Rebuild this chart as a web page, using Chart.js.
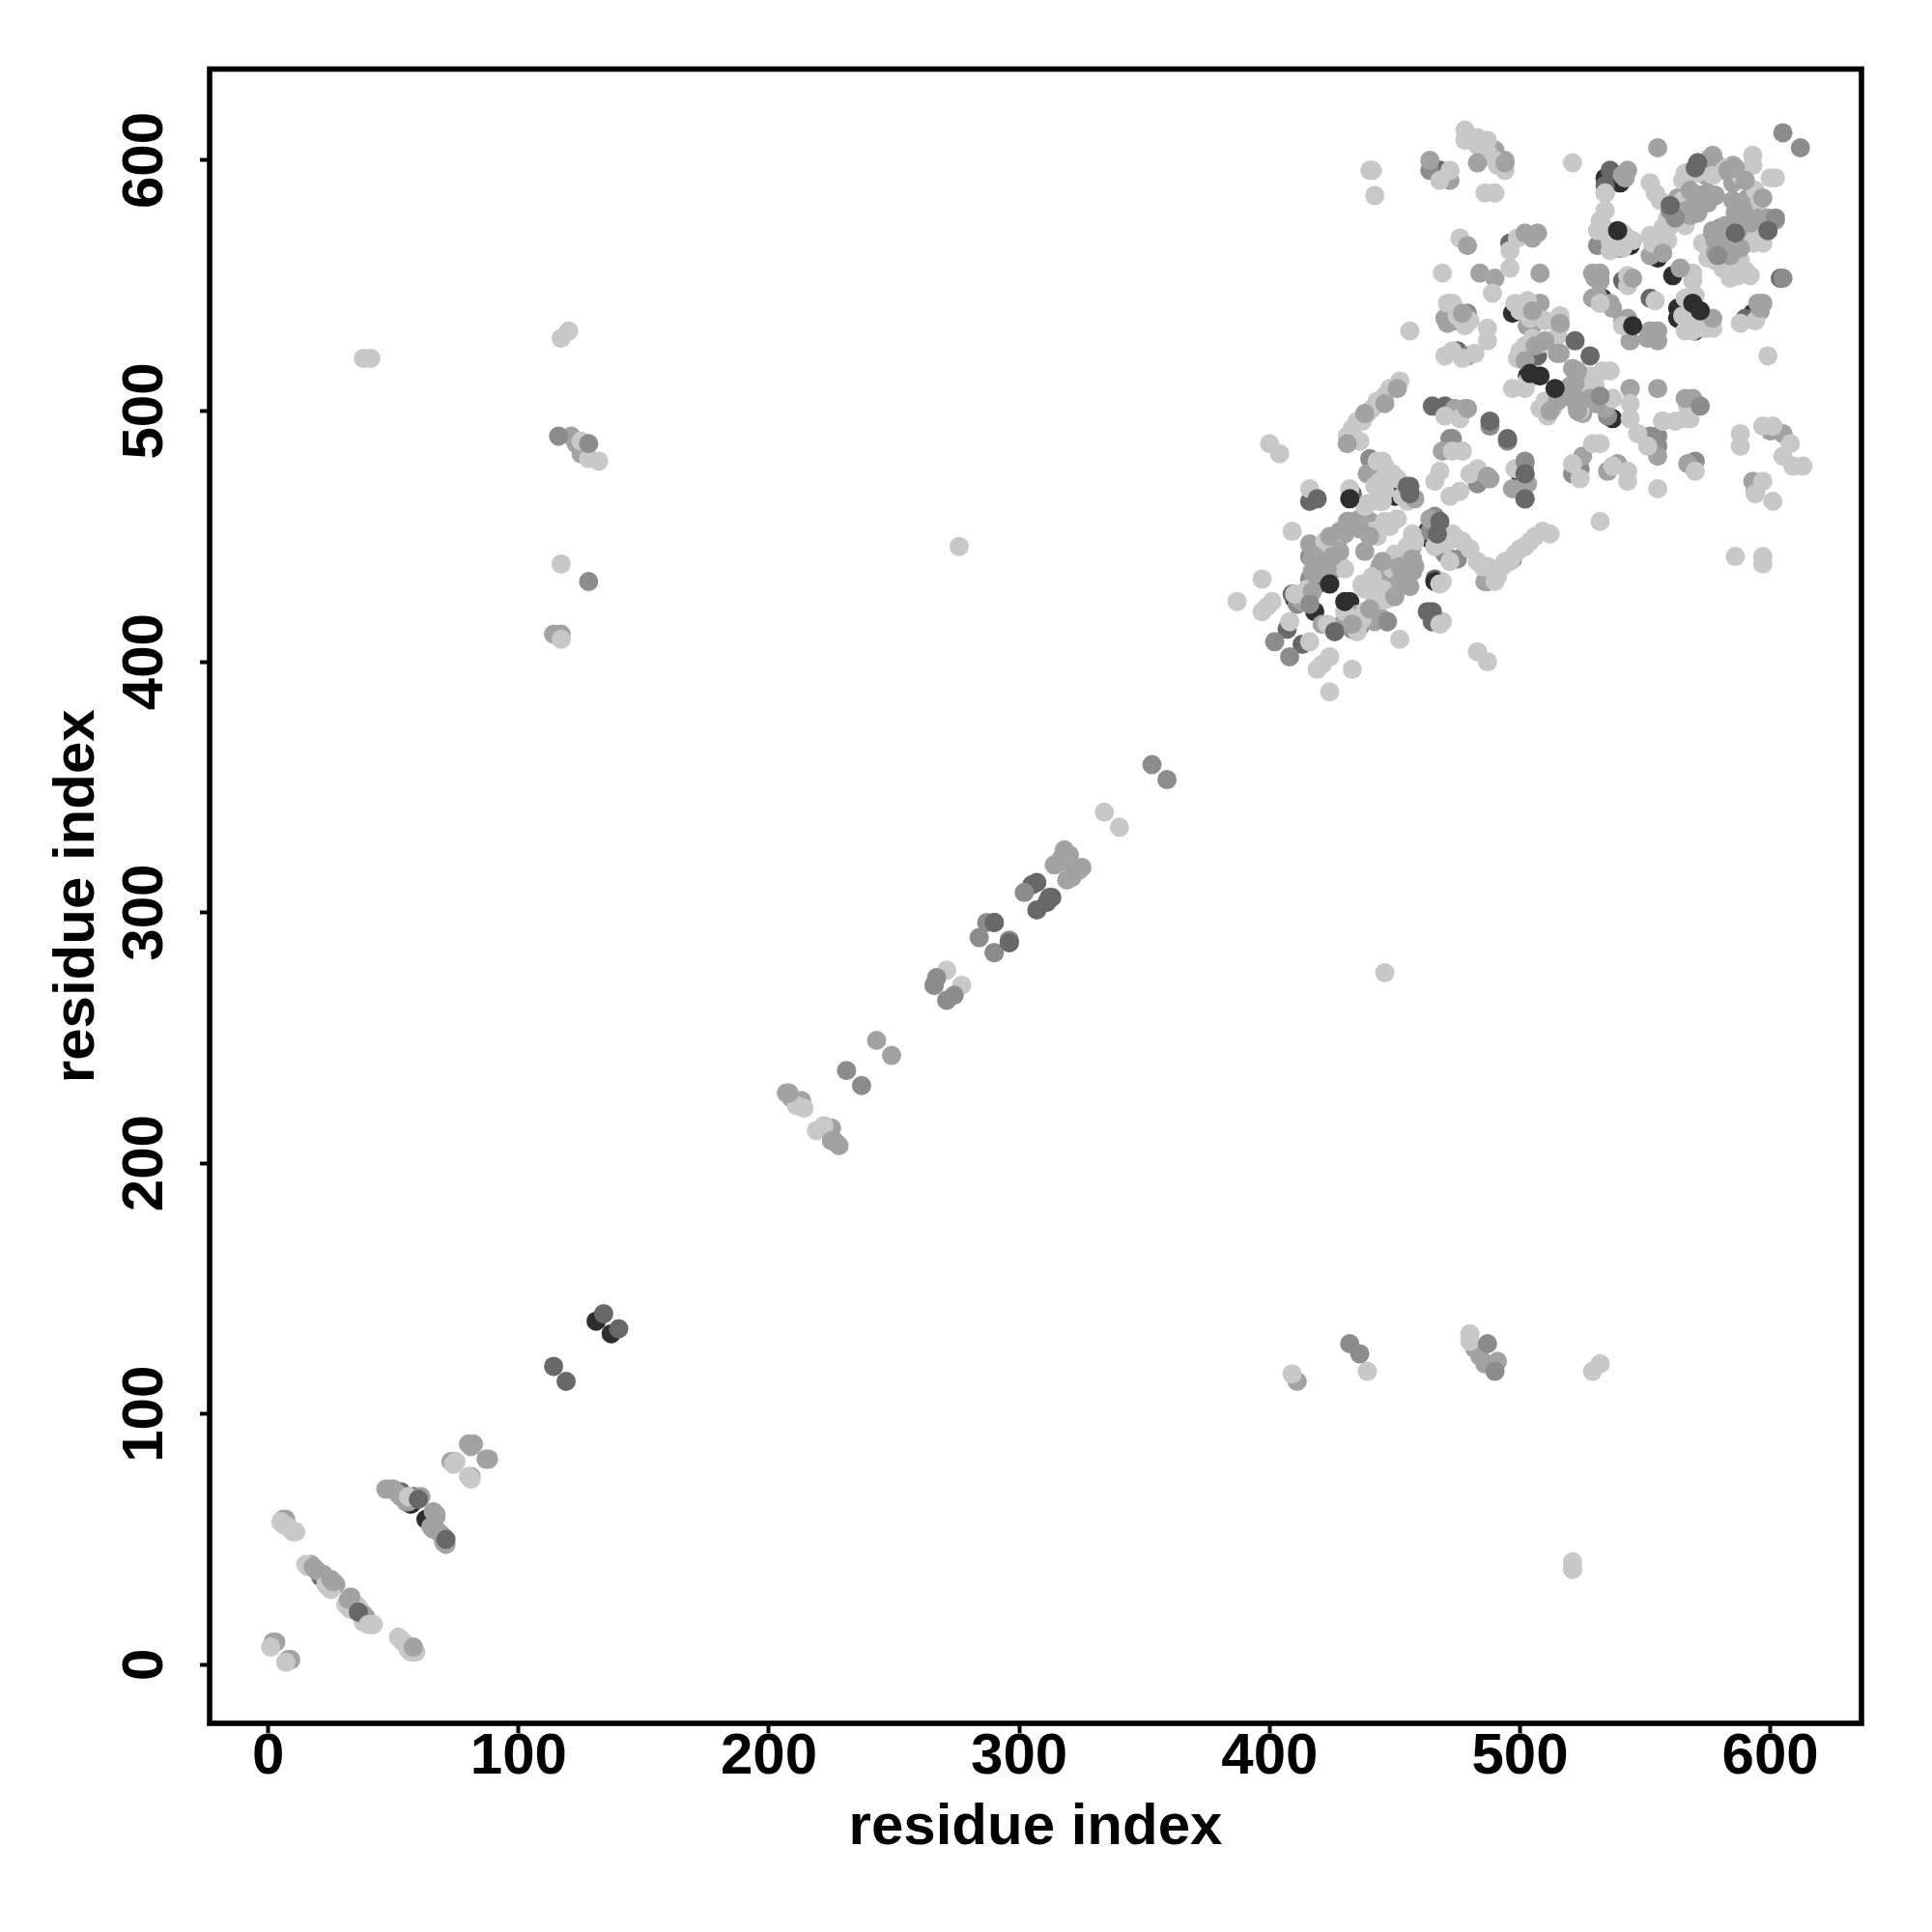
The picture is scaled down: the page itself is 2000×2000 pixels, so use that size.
<!DOCTYPE html>
<html>
<head>
<meta charset="utf-8">
<script src="https://cdn.jsdelivr.net/npm/chart.js@4"></script>
<style>
  html, body { margin: 0; padding: 0; background: #fff; }
  canvas { display: block; }
</style>
</head>
<body>
<canvas id="contactMap" width="2000" height="2000"></canvas>
<script>
// contacts as [residue, residue], grouped by shade and by how they stack
const blackUnder = [[58,65],[57,64],[63,58],[131,137],[137,132],[539,594],[539,592],[533,569],[540,565],[544,566],[533,545],[563,541],[563,537],[571,535],[593,539],[591,537],[475,500],[537,497],[463,452],[450,466],[503,514],[574,567],[565,577],[561,554],[497,539],[555,561],[534,593],[540,591],[464,449],[419,431],[432,424],[566,536],[570,532],[418,420],[500,475],[445,465],[410,425]];
const darkUnder = [[21,35],[37,21],[53,69],[58,67],[305,311],[307,312],[290,296],[296,288],[307,301],[311,304],[313,306],[140,134],[536,596],[534,590],[567,579],[541,552],[571,599],[586,571],[465,502],[470,502],[468,596],[567,498],[507,522],[475,524],[475,536],[496,567],[416,464],[407,413],[413,407],[409,427],[419,431],[502,465],[502,475],[552,545],[590,537],[528,512],[599,572],[560,582],[580,562],[604,553],[433,467],[463,420],[465,416],[466,433],[467,455],[456,470],[578,566],[582,568],[584,566],[586,572]];
const greyUnder = [[49,70],[20,37],[74,81],[266,271],[287,296],[284,290],[296,289],[290,284],[302,308],[464,596],[472,489],[483,471],[473,489],[488,494],[495,488],[533,505],[535,498],[521,475],[524,477],[552,490],[555,490],[555,486],[479,539],[479,522],[508,527],[523,501],[440,481],[441,478],[433,413],[436,414],[418,439],[411,423],[417,445],[470,443],[475,441],[497,441],[487,432],[570,480],[594,468],[506,541],[474,501],[503,534],[531,566],[534,587],[564,582],[572,586],[466,458],[464,452],[416,442],[416,433],[580,573]];
const midUnder = [[6,58],[7,58],[17,40],[22,36],[27,32],[34,24],[36,22],[37,20],[39,18],[2,9],[3,9],[9,2],[8,2],[47,70],[50,70],[52,68],[53,67],[54,67],[55,65],[56,65],[67,60],[66,61],[67,59],[65,55],[66,54],[68,53],[69,52],[70,49],[71,48],[80,88],[82,88],[81,87],[88,82],[87,82],[81,75],[73,81],[207,228],[209,226],[213,225],[225,214],[226,209],[228,207],[243,249],[249,243],[314,319],[317,322],[318,325],[319,313],[322,316],[325,318],[316,320],[320,323],[321,314],[324,317],[114,411],[117,411],[121,490],[123,487],[125,483],[411,113],[482,126],[484,123],[491,121],[486,120],[470,537],[544,509],[490,604],[494,600],[464,600],[472,592],[469,484],[478,501],[474,501],[488,473],[502,479],[502,471],[497,469],[551,529],[529,555],[532,555],[532,552],[529,545],[536,543],[543,537],[552,532],[555,532],[555,528],[552,562],[544,528],[521,517],[515,523],[521,505],[525,499],[508,555],[484,555],[490,553],[508,543],[503,534],[471,535],[539,479],[535,476],[555,482],[567,479],[593,472],[605,491],[600,492],[525,482],[439,475],[416,447],[424,437],[427,448],[430,451],[432,456],[436,457],[440,456],[413,424],[448,432],[450,430],[452,439],[457,446],[457,441],[457,436],[456,430],[435,419],[421,415],[429,415],[464,457],[440,417],[445,417],[447,416],[486,432],[438,444],[444,438],[578,567],[583,566],[587,579],[578,586],[571,579],[575,587],[585,598],[585,591],[576,601],[563,585],[591,585],[597,543],[595,543],[596,540],[530,553],[531,546],[537,541],[541,536],[553,530],[554,529],[503,541],[505,534],[503,471],[501,468],[501,476],[530,503],[534,501],[454,441],[455,433],[453,431],[458,438],[428,452],[426,445],[418,444],[417,436],[414,425],[416,426],[412,425],[448,430],[451,434],[421,438],[426,437],[442,416],[437,416],[596,585],[594,582],[584,574],[582,574],[586,567],[582,563],[576,566],[572,582],[566,587],[568,595],[571,596],[574,594],[580,596],[578,599]];
const pale = [[1,7],[7,1],[5,57],[6,56],[8,55],[9,54],[10,53],[11,53],[15,40],[16,39],[23,32],[24,31],[25,30],[31,24],[32,23],[33,22],[36,23],[35,24],[38,17],[52,11],[53,10],[54,9],[55,8],[56,6],[57,5],[58,5],[59,5],[56,67],[74,80],[75,81],[81,74],[80,75],[214,222],[211,223],[222,215],[219,213],[271,277],[277,271],[334,340],[340,334],[38,521],[41,521],[521,41],[521,38],[117,529],[120,532],[529,117],[532,120],[125,488],[128,481],[132,480],[117,439],[117,409],[439,117],[409,116],[480,132],[480,129],[276,446],[446,276],[478,612],[478,608],[483,609],[487,608],[483,606],[487,603],[490,600],[494,596],[491,598],[441,596],[440,596],[442,586],[486,587],[490,587],[521,599],[472,596],[468,592],[534,587],[541,594],[552,591],[554,587],[556,584],[559,577],[566,595],[565,592],[571,595],[577,594],[582,597],[588,594],[593,602],[593,598],[600,593],[602,593],[565,584],[566,574],[594,588],[595,582],[593,578],[592,573],[596,570],[593,567],[573,567],[578,560],[585,565],[588,560],[585,559],[587,554],[592,554],[532,576],[531,572],[536,568],[545,568],[542,570],[552,570],[557,570],[532,543],[554,544],[543,554],[543,550],[569,555],[569,552],[541,534],[566,545],[565,538],[566,532],[573,533],[577,533],[588,535],[594,536],[599,522],[536,516],[533,516],[528,514],[527,505],[523,508],[528,509],[502,526],[513,528],[497,509],[502,509],[499,521],[508,501],[511,498],[544,503],[544,497],[537,505],[557,496],[562,496],[566,497],[567,502],[568,497],[470,498],[476,497],[477,484],[473,484],[468,476],[466,472],[476,468],[472,466],[483,477],[480,475],[498,477],[456,532],[473,543],[471,543],[480,536],[477,536],[487,533],[487,528],[473,524],[477,521],[498,543],[503,544],[504,537],[516,538],[516,534],[469,555],[489,547],[496,557],[496,564],[499,569],[476,569],[586,442],[597,442],[597,439],[588,491],[588,486],[597,494],[601,494],[608,487],[605,482],[609,478],[613,478],[597,472],[601,464],[594,467],[529,487],[532,487],[521,479],[524,473],[543,476],[543,472],[537,478],[532,456],[483,404],[487,400],[555,469],[570,476],[547,491],[551,486],[557,496],[452,512],[448,509],[446,506],[443,504],[441,501],[439,499],[437,496],[435,496],[433,493],[431,490],[436,488],[443,480],[446,478],[449,475],[444,472],[446,468],[453,466],[444,464],[439,463],[445,480],[448,475],[451,473],[442,470],[445,464],[438,462],[455,464],[473,451],[475,449],[477,448],[480,445],[483,440],[485,438],[487,438],[490,432],[491,434],[493,438],[494,440],[496,440],[498,443],[500,445],[502,446],[504,448],[506,450],[509,452],[512,451],[469,432],[469,416],[452,409],[400,487],[404,483],[416,469],[432,469],[409,452],[424,388],[433,397],[424,402],[419,397],[421,399],[416,408],[408,416],[397,433],[387,424],[401,424],[397,420],[399,422],[424,445],[422,448],[446,456],[451,457],[441,452],[443,450],[430,437],[428,439],[415,429],[410,427],[437,430],[438,429],[445,429],[445,425],[442,424],[415,425],[457,451],[450,443],[423,415],[433,417],[437,417],[458,448],[455,446],[453,443],[452,437],[449,437],[421,441],[423,442],[425,447],[433,454],[444,453],[448,454],[470,447],[472,440],[466,446],[469,449],[437,431],[441,434],[438,420],[430,420],[435,412],[443,421],[447,425],[448,428],[541,571],[535,572],[533,574],[534,580],[536,564],[538,567],[541,565],[553,567],[555,566],[559,568],[557,573],[560,574],[590,576],[595,574],[597,567],[590,569],[587,563],[590,556],[584,553],[581,557],[575,561],[570,546],[572,537],[574,533],[568,534],[569,532],[475,538],[478,534],[470,522],[482,523],[500,540],[506,538],[510,536],[500,524],[505,529],[509,527],[515,530],[503,512],[510,504],[513,501],[524,512],[526,511],[530,510],[524,500]];
const midOver = [[18,39],[19,38],[25,34],[26,33],[33,27],[32,26],[38,20],[39,19],[58,7],[61,67],[70,51],[208,228],[225,209],[227,208],[483,599],[494,599],[543,596],[541,594],[542,593],[555,605],[599,577],[602,576],[597,585],[587,572],[577,572],[507,571],[505,569],[502,571],[479,566],[555,509],[566,505],[569,505],[564,557],[577,537],[515,523],[515,504],[554,530],[557,563],[545,553],[479,501],[451,509],[446,503],[438,499],[431,487],[458,465],[477,539],[487,474],[523,516],[431,456],[418,442],[423,437],[429,452],[434,454],[574,586],[570,586],[577,602],[586,597],[596,541],[586,579],[586,575],[584,574],[575,587],[578,586],[572,586],[570,585],[577,571],[578,568],[581,566],[580,572],[578,563],[583,596],[585,597],[452,438],[455,431],[457,436],[457,441],[445,417],[447,416],[418,435],[417,441],[516,523],[506,526],[522,511],[522,505],[523,500],[566,580],[568,578],[585,584],[589,581],[592,575],[595,577],[588,565],[584,562],[575,583],[568,588],[590,592],[425,442],[428,444],[424,450],[436,453],[440,450],[445,440],[452,432],[450,426],[440,421],[433,415],[417,428],[510,528],[516,535],[505,540],[502,520],[512,500],[520,510],[528,505]];
const greyOver = [[572,502],[605,553],[605,611],[612,605],[432,128],[436,124],[128,432],[353,359],[359,353],[231,237],[237,231],[290,284],[116,490],[128,487],[487,128],[490,117],[602,577],[447,416],[408,402],[402,408],[416,423],[502,480],[532,506],[579,562],[560,580],[562,577],[267,274],[271,265],[274,267],[266,271]];
const darkOver = [[36,21],[114,119],[119,113],[134,140],[71,50],[60,66],[522,528],[528,522],[488,496],[495,489],[419,465],[468,456],[467,451],[426,412],[465,420],[465,416],[599,572],[586,571],[571,599],[560,582],[456,467],[455,470],[312,306],[290,296],[296,288],[502,465],[502,475],[570,597]];
const blackOver = [[539,572],[569,543],[572,540],[545,534],[508,514],[504,515],[514,509],[424,431],[430,424],[466,432],[432,465]];
const paleOver = [[40,16],[41,16],[42,16],[468,431],[468,415]];

const tickValues = [0, 100, 200, 300, 400, 500, 600];
const axisMin = -23.4;
const axisMax = 636.4;
const axisTitle = "residue index";

function toPoints(pairs) {
    return pairs.map(p => ({ x: p[0], y: p[1] }));
}

function makeSeries(label, pairs, color) {
    return {
        label: label,
        data: toPoints(pairs),
        backgroundColor: color,
        borderWidth: 0,
        pointRadius: 10,
        pointHoverRadius: 10,
        clip: false
    };
}

const boxPlugin = {
    id: 'box',
    afterDraw(chart) {
        const a = chart.chartArea;
        const ctx = chart.ctx;
        ctx.save();
        ctx.strokeStyle = '#000';
        ctx.lineWidth = 5.6;
        ctx.strokeRect(a.left, a.top, a.right - a.left, a.bottom - a.top);
        ctx.restore();
    }
};

function axisOptions(titlePadding, size, rotation, labelPadding) {
    return {
        type: 'linear',
        min: axisMin,
        max: axisMax,
        afterBuildTicks: scale => { scale.ticks = tickValues.map(v => ({ value: v })); },
        afterFit: scale => {
            if (scale.axis === 'x') scale.height = size;
            else scale.width = size;
        },
        grid: { drawOnChartArea: false, drawTicks: true, tickLength: 10, tickWidth: 4, tickColor: '#000' },
        border: { display: false },
        ticks: {
            color: '#000',
            font: { family: 'Liberation Sans', weight: 'bold', size: 60 },
            padding: labelPadding,
            autoSkip: false,
            minRotation: rotation,
            maxRotation: rotation,
            crossAlign: rotation ? 'center' : 'near'
        },
        title: {
            display: true,
            text: axisTitle,
            color: '#000',
            font: { family: 'Liberation Sans', weight: 'bold', size: 60 },
            padding: titlePadding
        }
    };
}

// the first dataset in the list is painted last, so the top layer comes first
new Chart(document.getElementById('contactMap'), {
    type: 'scatter',
    data: {
        datasets: [
            makeSeries('paleOver', paleOver, '#c8c8c8'),
            makeSeries('blackOver', blackOver, '#2e2e2e'),
            makeSeries('darkOver', darkOver, '#686868'),
            makeSeries('greyOver', greyOver, '#8c8c8c'),
            makeSeries('midOver', midOver, '#a2a2a2'),
            makeSeries('pale', pale, '#c8c8c8'),
            makeSeries('midUnder', midUnder, '#a2a2a2'),
            makeSeries('greyUnder', greyUnder, '#8c8c8c'),
            makeSeries('darkUnder', darkUnder, '#686868'),
            makeSeries('blackUnder', blackUnder, '#2e2e2e')
        ]
    },
    options: {
        responsive: false,
        animation: false,
        layout: { padding: { top: 71.5, right: 73, left: 0, bottom: 0 } },
        plugins: { legend: { display: false }, tooltip: { enabled: false } },
        scales: {
            x: axisOptions({ top: 0, bottom: 72 }, 216, 0, -11),
            y: axisOptions({ top: 44, bottom: 0 }, 217, 90, 5)
        }
    },
    plugins: [boxPlugin]
});
</script>
</body>
</html>
